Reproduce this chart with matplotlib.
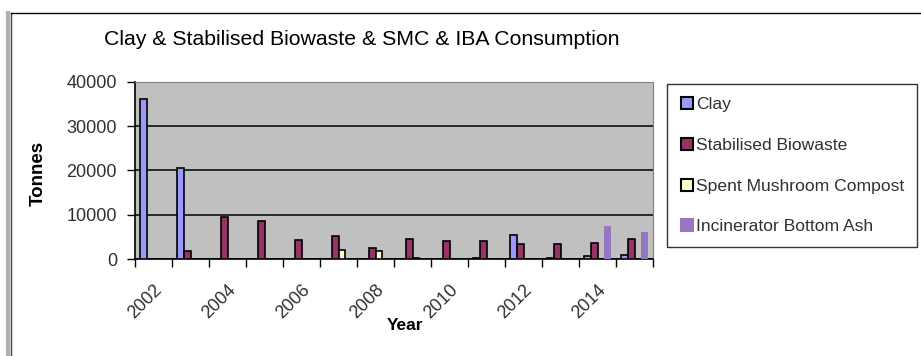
#Clay & Stabilised Biowaste & SMC & IBA consumption, Excel-style grouped bars
import matplotlib
matplotlib.use("Agg")
import matplotlib.pyplot as plt
import numpy as np
from matplotlib.lines import Line2D

plt.rcParams['font.family'] = ['Liberation Sans', 'DejaVu Sans']

#the data (tonnes)
years = [2002, 2003, 2004, 2005, 2006, 2007, 2008, 2009, 2010, 2011, 2012, 2013, 2014, 2015]
clay = [36000, 20500, 0, 0, 0, 0, 0, 0, 0, 200, 5500, 200, 600, 900]
biowaste = [0, 1800, 9500, 8600, 4300, 5200, 2500, 4500, 4000, 4000, 3400, 3400, 3500, 4400]
smc = [0, 0, 0, 0, 0, 2000, 1700, 300, 0, 0, 0, 0, 0, 0]
iba = [0, 0, 0, 0, 0, 0, 0, 0, 0, 0, 0, 0, 7400, 6000]
names = ['Clay', 'Stabilised Biowaste', 'Spent Mushroom Compost', 'Incinerator Bottom Ash']
tick_years = [2002, 2004, 2006, 2008, 2010, 2012, 2014]

colours = ['#9999ff', '#993366', '#ffffcc', '#9478c2']
edges = ['black', 'black', 'black', 'none']

W, H = 921, 356
fig = plt.figure(figsize=(W / 100, H / 100), dpi=100)
ax = fig.add_axes([135 / W, 1 - 259 / H, (653 - 135) / W, (259 - 81.7) / H])
ax.set_facecolor('#c0c0c0')

x = np.arange(len(years))
w = 1 / 5.5
series = [clay, biowaste, smc, iba]
for i, vals in enumerate(series):
    ax.bar(x + (i - 1.5) * w, vals, width=w, color=colours[i],
           edgecolor=edges[i], linewidth=1.2, zorder=3)

ax.set_xlim(-0.5, len(years) - 0.5)
ax.set_ylim(0, 40000)
ax.set_yticks([0, 10000, 20000, 30000, 40000])
ax.yaxis.grid(True, color='black', linewidth=1.1, zorder=1)
ax.set_axisbelow(True)
ax.tick_params(axis='y', length=6, width=1, pad=7, labelsize=13, colors='black', labelcolor='#303030')

#tick marks on category boundaries, labels on every other year
ax.set_xticks(np.arange(len(years) + 1) - 0.5)
ax.set_xticklabels([])
ax.tick_params(axis='x', which='major', length=6, width=1)
label_pos = [years.index(y) for y in tick_years]
ax.set_xticks(label_pos, minor=True)
ax.set_xticklabels([str(y) for y in tick_years], minor=True, rotation=45,
                   ha='right', va='top', rotation_mode='anchor', fontsize=13, color='#303030')
ax.tick_params(axis='x', which='minor', length=0, pad=16)

for s in ['top', 'right']:
    ax.spines[s].set_color('#808080')
for s in ['left', 'bottom']:
    ax.spines[s].set_color('black')
    ax.spines[s].set_linewidth(1.2)

#titles
fig.text(104 / W, 1 - 45 / H, 'Clay & Stabilised Biowaste & SMC & IBA Consumption',
         fontsize=15.3, va='baseline', ha='left')
fig.text(38 / W, 1 - 173 / H, 'Tonnes', rotation=90, fontsize=13.5, fontweight='bold',
         ha='center', va='center')
fig.text(405 / W, 1 - 325 / H, 'Year', fontsize=12.5, fontweight='bold',
         ha='center', va='center')

#legend
handles = [Line2D([0], [0], marker='s', linestyle='none', markersize=9,
                  markerfacecolor=colours[i], markeredgecolor=edges[i] if edges[i] != 'none' else colours[i],
                  markeredgewidth=1.5) for i in range(4)]
leg = fig.legend(handles, names, loc='upper left', bbox_to_anchor=(667 / W, 1 - 84 / H),
                 frameon=True, fancybox=False, fontsize=12.6, handlelength=0.8,
                 handletextpad=0.1, labelspacing=1.45, borderpad=0.75, borderaxespad=0)
leg.get_frame().set_edgecolor('black')
leg.get_frame().set_linewidth(1)
for t in leg.get_texts():
    t.set_color('#303030')

#chart border, cut at right and bottom like the original
fig.add_artist(Line2D([8 / W, 8 / W], [0, 1 - 13 / H], color='#b0b0b0', linewidth=3, transform=fig.transFigure))
fig.add_artist(Line2D([10.5 / W, 10.5 / W], [0, 1 - 13 / H], color='#404040', linewidth=1, transform=fig.transFigure))
fig.add_artist(Line2D([10.5 / W, 1], [1 - 13 / H, 1 - 13 / H], color='black', linewidth=1, transform=fig.transFigure))

fig.savefig('out.png', dpi=100)
